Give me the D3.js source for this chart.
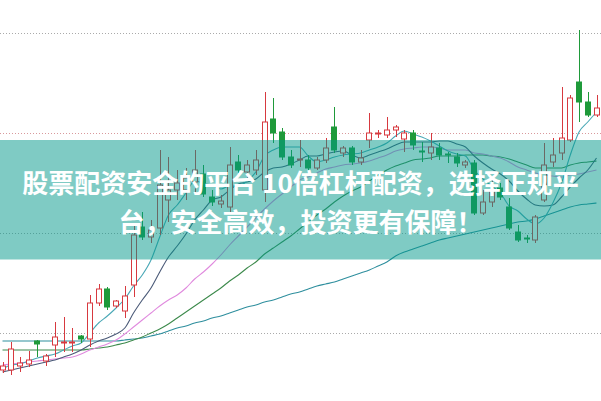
<!DOCTYPE html>
<html><head><meta charset="utf-8">
<script src="https://cdn.jsdelivr.net/npm/d3@7/dist/d3.min.js"></script>
<style>html,body{margin:0;padding:0;background:#fff;overflow:hidden}</style>
</head><body><div id="chart"></div>
<script>
// ---- data (price units) ----
const opens  = [6.3,6.3,6.7,6.9,9.2,7.2,8.8,9.0,9.0,9.7,9.4,13.0,14.4,12.7,12.2,14.8,20.6,19.6,20.5,23.3,24.3,24.3,25.1,25.9,23.6,22.9,22.6,27.1,26.1,26.3,24.3,31.4,30.1,27.6,27.3,27.3,26.5,27.3,30.6,28.0,28.5,27.1,29.3,29.9,29.8,30.3,29.4,30.0,28.2,28.0,28.5,27.9,27.6,26.8,27.0,22.0,23.1,24.5,22.6,20.1,19.5,19.3,23.3,27.1,28.0,29.3,35.1,33.1,31.8];
const closes = [6.7,8.4,7.0,7.3,8.9,7.7,9.6,9.1,9.1,9.4,13.0,14.4,12.6,13.2,13.7,19.8,19.6,20.3,24.8,24.3,25.0,25.5,26.3,23.9,23.1,23.2,26.8,26.3,26.8,27.3,31.1,30.0,27.6,26.8,27.4,26.5,27.3,28.5,28.3,28.5,27.1,27.5,30.0,30.0,30.3,30.6,30.0,28.8,28.1,28.6,27.8,27.8,27.0,27.1,22.0,23.1,24.3,23.6,20.5,19.3,19.4,21.6,26.8,27.8,29.5,33.5,33.1,31.8,32.5];
const highs  = [7.1,9.1,7.6,8.2,9.3,7.9,11.1,11.6,10.5,9.8,13.8,14.9,14.6,13.3,14.7,20.8,22.1,21.3,28.3,27.6,26.3,26.5,28.3,26.8,24.3,23.8,28.6,27.8,27.3,28.3,34.1,33.5,30.5,28.3,29.3,27.8,27.6,29.5,32.6,28.7,28.7,28.3,32.0,30.3,31.6,30.8,30.3,30.3,29.1,30.0,29.0,28.1,28.0,27.3,27.3,24.3,25.3,25.0,23.5,20.8,19.8,21.8,29.0,29.5,34.6,33.8,40.3,34.1,33.8];
const lows   = [6.0,5.8,6.1,6.6,7.6,6.7,7.6,8.1,8.1,9.0,8.6,12.7,12.3,12.5,11.5,13.6,19.3,19.0,19.8,21.1,23.3,23.3,23.8,23.6,22.7,22.5,22.1,26.0,25.5,25.8,23.1,29.0,27.3,26.5,26.6,26.3,26.3,27.0,28.0,27.6,26.8,26.8,28.5,29.5,29.5,29.6,28.1,28.3,27.1,27.3,27.3,27.0,26.6,26.5,21.8,21.8,22.6,23.3,20.3,19.1,19.0,19.0,23.1,26.6,27.3,29.1,31.1,31.6,31.6];
const ma5  = [6.4,6.8,6.9,7.2,7.5,7.7,7.9,8.3,8.7,9.0,10.0,11.0,11.7,12.5,13.4,14.7,15.8,17.3,19.6,21.8,22.8,24.0,25.2,25.0,24.8,24.4,24.7,24.7,25.2,26.1,27.7,28.3,28.6,28.6,28.6,27.7,27.1,27.3,27.6,27.8,27.9,28.0,28.3,28.6,29.0,29.7,30.2,29.9,29.6,29.2,28.7,28.2,27.9,27.7,26.3,25.4,24.7,24.0,22.7,22.2,21.4,20.9,21.5,23.0,25.0,27.8,30.1,31.1,32.1];
const ma10 = [6.1,6.3,6.5,6.7,6.9,7.1,7.3,7.6,7.9,8.3,8.8,9.2,9.5,9.9,10.5,12.0,13.3,14.5,16.1,17.6,18.7,19.9,21.3,22.3,23.3,23.6,24.3,24.9,25.1,25.4,26.1,26.5,26.6,26.9,27.3,27.7,27.7,27.9,28.1,28.2,27.8,27.5,27.8,28.1,28.4,28.8,29.1,29.1,29.1,29.1,29.2,29.2,28.9,28.6,27.7,27.0,26.4,25.9,25.2,24.2,23.4,22.8,22.7,22.8,23.6,24.6,25.5,26.3,27.5];
const ma20 = [6.8,6.9,7.0,7.1,7.2,7.3,7.4,7.5,7.6,7.9,8.3,8.6,8.9,9.3,9.9,10.6,11.3,12.0,12.7,13.3,13.8,14.5,15.4,16.1,16.9,17.8,18.8,19.7,20.6,21.5,22.4,23.2,23.9,24.6,25.3,25.6,26.0,26.4,26.6,26.8,26.9,27.0,27.2,27.5,27.8,28.2,28.4,28.5,28.6,28.6,28.5,28.3,28.3,28.3,28.0,27.9,27.7,27.5,27.1,26.6,26.3,26.0,25.8,25.7,25.6,25.8,25.9,26.1,26.3];
const ma30 = [8.3,8.3,8.3,8.3,8.3,8.3,8.3,8.3,8.3,8.3,8.4,8.5,8.6,8.8,9.0,9.3,9.6,10.0,10.4,10.9,11.5,12.1,12.7,13.3,13.9,14.5,15.2,15.8,16.5,17.1,17.9,18.5,19.1,19.7,20.4,21.1,21.8,22.4,23.1,23.7,24.2,24.6,25.2,25.8,26.3,26.7,27.0,27.3,27.4,27.5,27.7,27.7,27.7,27.8,27.8,27.8,27.7,27.6,27.4,27.1,26.8,26.5,26.5,26.5,26.5,26.8,27.0,27.1,27.2];
const ma60 = [9.2,9.2,9.2,9.2,9.2,9.2,9.2,9.2,9.2,9.2,9.2,9.2,9.2,9.2,9.3,9.4,9.5,9.7,9.9,10.2,10.5,10.7,11.0,11.2,11.5,11.7,12.0,12.3,12.6,12.8,13.1,13.3,13.6,13.9,14.1,14.4,14.7,14.9,15.1,15.4,15.7,16.0,16.3,16.7,17.1,17.7,18.1,18.4,18.7,19.0,19.3,19.5,19.7,19.9,20.1,20.3,20.5,20.7,20.9,21.1,21.2,21.4,21.7,22.0,22.3,22.6,22.8,22.9,23.0];
const gridTicks = [10, 20, 30, 40];
const refTick = 30;
const bannerLines = ["股票配资安全的平台 10倍杠杆配资，选择正规平", "台，安全高效，投资更有保障！"];
const days = opens.map((d, i) => i);

// ---- drawing ----
const W = 601, H = 401;
const svg = d3.select("#chart").append("svg").attr("width", W).attr("height", H)
  .style("display", "block").style("font-family", "'Noto Sans CJK SC', sans-serif");
svg.append("rect").attr("width", W).attr("height", H).attr("fill", "#fff");

const x = d3.scaleLinear().domain([0, days.length - 1]).range([2.5, 596.5]);
const y = d3.scaleLinear().domain([0, 43.3]).range([433, 0]);

// grid
const gAx = svg.append("g")
  .call(d3.axisRight(y).tickValues(gridTicks).tickSize(W).tickFormat(""));
gAx.select(".domain").remove();
gAx.selectAll(".tick line")
  .attr("stroke", d => d === refTick ? "#d9999c" : "#aaaaaa")
  .attr("stroke-dasharray", "1,2").attr("shape-rendering", "crispEdges");

// MA lines
const lineGen = d3.line().x((d, i) => x(i)).y(d => y(d)).curve(d3.curveMonotoneX);
const maSeries = [
  {v: ma60, c: "#2f8f9e"},
  {v: ma30, c: "#3d8a4c"},
  {v: ma20, c: "#e08ade"},
  {v: ma10, c: "#4b5a78"},
  {v: ma5,  c: "#4aa8b6"}
];
svg.append("g").selectAll("path").data(maSeries).join("path")
  .attr("d", d => lineGen(d.v)).attr("fill", "none").attr("stroke", d => d.c).attr("stroke-width", 1.1);

// candles
const red = "#d7393f", green = "#1f9a3a";
const bw = 6;
const cg = svg.append("g").selectAll("g").data(days).join("g");
cg.append("line")
  .attr("x1", i => Math.round(x(i)) + 0.5).attr("x2", i => Math.round(x(i)) + 0.5)
  .attr("y1", i => y(highs[i])).attr("y2", i => y(lows[i]))
  .attr("stroke", i => closes[i] >= opens[i] ? red : green).attr("stroke-width", 1);
cg.append("rect")
  .attr("x", i => Math.round(x(i)) - bw / 2 + 0.5)
  .attr("y", i => y(Math.max(opens[i], closes[i])))
  .attr("width", bw - 1)
  .attr("height", i => Math.max(1, Math.abs(y(opens[i]) - y(closes[i]))))
  .attr("fill", i => closes[i] >= opens[i] ? "#fff" : green)
  .attr("stroke", i => closes[i] >= opens[i] ? red : green).attr("stroke-width", 1);

// banner
svg.append("rect").attr("x", 0).attr("y", 140).attr("width", W).attr("height", 119.5)
  .attr("fill", "rgb(0,151,137)").attr("fill-opacity", 0.5);
svg.append("g").selectAll("text").data(bannerLines).join("text")
  .attr("x", W / 2).attr("y", (d, i) => 181 + i * 39)
  .attr("text-anchor", "middle").attr("dominant-baseline", "central")
  .attr("fill", "#fff").attr("font-weight", "bold").attr("font-size", 26)
  .text(d => d);
</script></body></html>
